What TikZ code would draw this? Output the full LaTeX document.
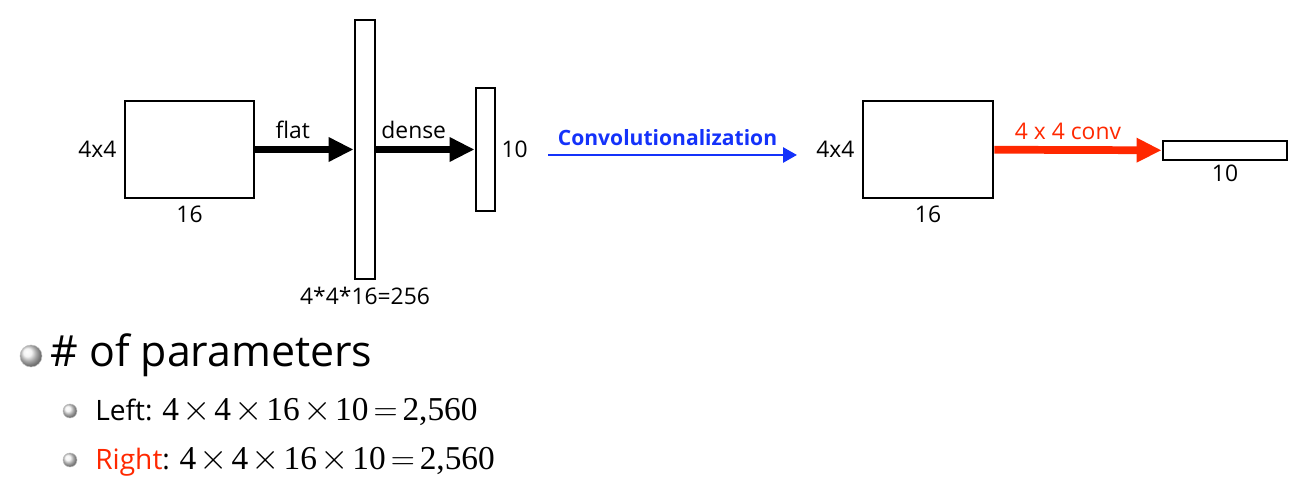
\documentclass[tikz,border=0pt]{standalone}
\usepackage{fontspec}
\setmainfont{Open Sans}
\newfontfamily\numfont{Liberation Serif}
\usetikzlibrary{positioning,arrows.meta}
\definecolor{convblue}{RGB}{20,50,250}
\definecolor{convred}{RGB}{255,40,0}

\tikzset{
  layer/.style={draw, line width=1.6pt, inner sep=0pt},
  lbl/.style={font=\fontsize{13}{15}\selectfont, inner sep=1pt},
  fat/.style={line width=4.4pt, -{Triangle[length=0.5cm,width=0.46cm]}},
  bul/.style={ball color=gray!12, draw=gray!50, line width=0.3pt}
}
\newcommand\tms{\kern2pt\scalebox{1.2}{$\times$}\kern2pt}
\newcommand\eqn{{\numfont\fontsize{19}{20}\selectfont 4\tms4\tms16\tms10\kern2.8pt\scalebox{1.1}{$=$}\kern2.8pt2,560}}

\begin{document}
\begin{tikzpicture}[x=0.02cm, y=-0.02cm]
\useasboundingbox (0,0) rectangle (1300,492);

% left network
\node[layer, minimum width=2.58cm, minimum height=1.94cm] (in) at (189.5,149.5) {};
\node[layer, minimum width=0.4cm, minimum height=5.18cm] (flat) at (365,149.5) {};
\node[layer, minimum width=0.38cm, minimum height=2.46cm] (out) at (485.5,149.5) {};
\node[lbl, left=0.1cm of in] (insize) {4x4};
\node[lbl, below=0.08cm of in] (inch) {16};
\node[lbl, below=0.1cm of flat] (flatsize) {4*4*16=256};
\node[lbl, right=0.06cm of out] (outsize) {10};
\draw[fat] (in) -- node[lbl, above=0.1cm, pos=0.38] {flat} (flat);
\draw[fat] (flat) -- node[lbl, above=0.1cm, pos=0.38] {dense} (out);

% convolutionalization
\coordinate (cs) at (548,155);
\coordinate (ce) at (797,155);
\draw[convblue, line width=1.6pt, -{Triangle[length=0.28cm,width=0.3cm]}] (cs) -- node[above=0.05cm, pos=0.48, font=\bfseries\fontsize{12}{14}\selectfont] {Convolutionalization} (ce);

% right network
\node[layer, minimum width=2.6cm, minimum height=1.94cm] (cin) at (928,149.5) {};
\node[layer, minimum width=2.48cm, minimum height=0.38cm] (cout) at (1225,150.5) {};
\node[lbl, left=0.1cm of cin] (cinsize) {4x4};
\node[lbl, below=0.08cm of cin] (cinch) {16};
\node[lbl, below=0.02cm of cout] (coutsize) {10};
\draw[fat, convred] (cin) -- node[lbl, above=0.1cm, pos=0.44] {4 x 4 conv} (cout);

% parameter count
\shade[bul] (31,356) circle (11);
\node[anchor=west, font=\fontsize{24.4}{28}\selectfont, inner sep=0pt] (params) at (50,355) {\# of parameters};
\shade[bul] (70,411) circle (7);
\node[anchor=west, font=\fontsize{16}{18}\selectfont, inner sep=0pt] (left) at (95,412) {Left: \eqn};
\shade[bul] (70,460) circle (7);
\node[anchor=west, font=\fontsize{16}{18}\selectfont, inner sep=0pt] (right) at (95,462) {\textcolor{convred}{Right}: \eqn};
\end{tikzpicture}
\end{document}
